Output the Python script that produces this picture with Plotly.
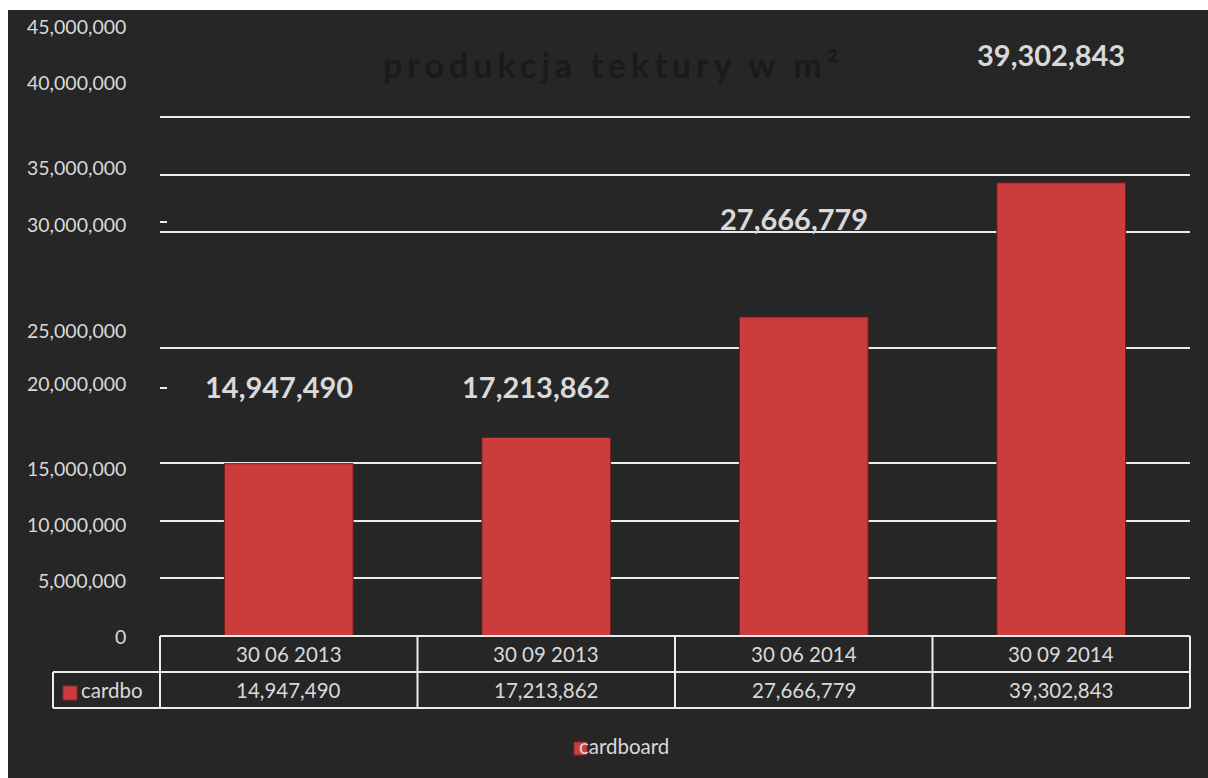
import plotly.graph_objects as go

# ---------------- data ----------------
categories = ["30 06 2013", "30 09 2013", "30 06 2014", "30 09 2014"]
values = [14947490, 17213862, 27666779, 39302843]
series_name = "cardboard"
series_short = "cardbo"
title_text = "produkcja tektury w m²"
tick_labels = ["45,000,000", "40,000,000", "35,000,000", "30,000,000", "25,000,000",
               "20,000,000", "15,000,000", "10,000,000", "5,000,000", "0"]
grid_values = [5e6, 10e6, 15e6, 25e6, 35e6, 40e6, 45e6]

# ---------------- layout constants (pixels) ----------------
W, H = 1208, 778
L, R, T, B = 160, 18, 10, 142
PW = W - L - R
PH = H - T - B
PX_PER_UNIT = 11.53e-6
Y_MAX = PH / PX_PER_UNIT

tick_label_py = [27, 82, 168, 224, 330, 383, 468, 524, 580, 636]
value_label_py = [386, 386, 219, 55]
dash_py = [222, 388]

BG = "#262626"
TXT = "#d9d9d9"
LINE = "#ececec"
BAR = "#cc3c3c"
FONT = "Lato"


def py(p):
    return (H - B - p) / PH


def px(p):
    return (p - L) / PW


fig = go.Figure()
fig.add_trace(go.Bar(
    x=categories, y=values, width=0.5, name=series_name,
    marker=dict(color=BAR, line=dict(color="#6e1c1c", width=1)),
    showlegend=False,
))

shapes = []
# white border strips (top / left)
shapes.append(dict(type="rect", xref="paper", yref="paper", x0=px(0), x1=px(W),
                   y0=py(10), y1=py(0), fillcolor="white", line=dict(width=0), layer="above"))
shapes.append(dict(type="rect", xref="paper", yref="paper", x0=px(0), x1=px(8),
                   y0=py(H), y1=py(0), fillcolor="white", line=dict(width=0), layer="above"))
# small dashes
for d in dash_py:
    shapes.append(dict(type="line", xref="paper", yref="paper", x0=px(160), x1=px(167),
                       y0=py(d), y1=py(d), line=dict(color=LINE, width=2)))
# data table grid
col_edges = [L + i * PW / len(categories) for i in range(len(categories) + 1)]
shapes.append(dict(type="line", xref="paper", yref="paper", x0=px(L), x1=px(W - R),
                   y0=py(636), y1=py(636), line=dict(color=LINE, width=2)))
for yy in (672, 708):
    shapes.append(dict(type="line", xref="paper", yref="paper", x0=px(53), x1=px(W - R),
                       y0=py(yy), y1=py(yy), line=dict(color=LINE, width=2)))
shapes.append(dict(type="line", xref="paper", yref="paper", x0=px(53), x1=px(53),
                   y0=py(672), y1=py(708), line=dict(color=LINE, width=2)))
for xe in col_edges:
    shapes.append(dict(type="line", xref="paper", yref="paper", x0=px(xe), x1=px(xe),
                       y0=py(636), y1=py(708), line=dict(color=LINE, width=2)))
# legend keys
shapes.append(dict(type="rect", xref="paper", yref="paper", x0=px(63), x1=px(77),
                   y0=py(700), y1=py(686), fillcolor=BAR, line=dict(color="#8a2a2a", width=1)))
shapes.append(dict(type="rect", xref="paper", yref="paper", x0=px(574), x1=px(587),
                   y0=py(755), y1=py(742), fillcolor=BAR, line=dict(color="#8a2a2a", width=1)))

ann = []
# title
ann.append(dict(xref="paper", yref="paper", x=px(613), y=py(64), xanchor="center", yanchor="middle",
                text='<b><span style="letter-spacing:5px">' + title_text + "</span></b>",
                showarrow=False, font=dict(family=FONT, size=34, color="#1a1a1a")))
# y tick labels
for lab, p in zip(tick_labels, tick_label_py):
    ann.append(dict(xref="paper", yref="paper", x=px(128), y=py(p), xanchor="right", yanchor="middle",
                    text=lab, showarrow=False, font=dict(family=FONT, size=19.5, color=TXT)))
# data labels
for i, (v, p) in enumerate(zip(values, value_label_py)):
    ann.append(dict(xref="x", yref="paper", x=categories[i], xshift=-10, y=py(p), xanchor="center",
                    yanchor="middle", text="<b>" + f"{v:,}" + "</b>", showarrow=False,
                    font=dict(family=FONT, size=29, color=TXT)))
# data table text
for i, (c, v) in enumerate(zip(categories, values)):
    ann.append(dict(xref="x", yref="paper", x=c, y=py(654), xanchor="center", yanchor="middle",
                    text=c, showarrow=False, font=dict(family=FONT, size=20.5, color=TXT)))
    ann.append(dict(xref="x", yref="paper", x=c, y=py(690), xanchor="center", yanchor="middle",
                    text=f"{v:,}", showarrow=False, font=dict(family=FONT, size=20.5, color=TXT)))
ann.append(dict(xref="paper", yref="paper", x=px(79), y=py(690), xanchor="left", yanchor="middle",
                text=series_short, showarrow=False, font=dict(family=FONT, size=20.5, color=TXT)))
# legend
ann.append(dict(xref="paper", yref="paper", x=px(577), y=py(746), xanchor="left", yanchor="middle",
                text=series_name, showarrow=False, font=dict(family=FONT, size=20.5, color=TXT)))

fig.update_layout(
    width=W, height=H,
    margin=dict(l=L, r=R, t=T, b=B, pad=0),
    paper_bgcolor=BG, plot_bgcolor=BG,
    xaxis=dict(type="category", range=[-0.5, len(categories) - 0.5], showticklabels=False,
               showgrid=False, zeroline=False, showline=False, fixedrange=True),
    yaxis=dict(range=[0, Y_MAX], tickvals=grid_values, showticklabels=False, showgrid=True,
               gridcolor=LINE, gridwidth=2, zeroline=False, showline=False, ticks=""),
    shapes=shapes, annotations=ann, bargap=0.5, showlegend=False,
    font=dict(family=FONT),
)

fig.write_html("out.html")
